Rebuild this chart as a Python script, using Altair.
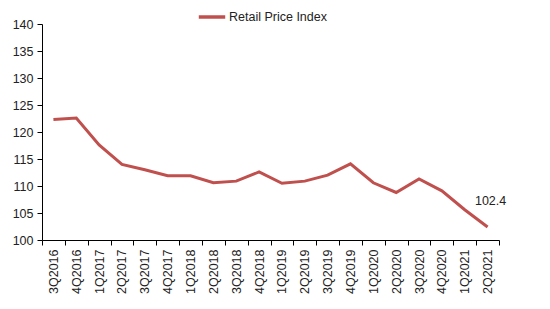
import altair as alt
import pandas as pd

quarters = [
    "3Q2016", "4Q2016", "1Q2017", "2Q2017", "3Q2017", "4Q2017",
    "1Q2018", "2Q2018", "3Q2018", "4Q2018", "1Q2019", "2Q2019",
    "3Q2019", "4Q2019", "1Q2020", "2Q2020", "3Q2020", "4Q2020",
    "1Q2021", "2Q2021",
]
rpi = [
    122.3, 122.6, 117.6, 114.0, 113.0, 111.9,
    111.9, 110.6, 110.9, 112.6, 110.5, 110.9,
    112.0, 114.1, 110.6, 108.8, 111.3, 109.1,
    105.6, 102.4,
]
y_ticks = [100, 105, 110, 115, 120, 125, 130, 135, 140]
series_name = "Retail Price Index"

df = pd.DataFrame({"quarter": quarters, "value": rpi, "series": series_name})
last = df.tail(1)

FONT = "Liberation Sans"
RED = "#C0504D"
FS = 12.5

x_scale = alt.Scale(type="band", paddingInner=0, paddingOuter=0)
y_scale = alt.Scale(domain=[100, 140], nice=False, zero=False)

# one axis definition per channel, shared by both layers so they merge cleanly
x_axis = alt.Axis(
    title=None,
    labelAngle=-90,
    labelAlign="right",
    labelBaseline="middle",
    labelOverlap=False,
    tickBand="extent",
    tickSize=5,
    labelPadding=4,
    domainColor="#000000",
    tickColor="#000000",
    labelColor="#222222",
    labelFont=FONT,
    labelFontSize=FS,
)
y_axis = alt.Axis(
    title=None,
    values=y_ticks,
    labelOverlap=False,
    grid=False,
    tickSize=5,
    labelPadding=4,
    domainColor="#000000",
    tickColor="#000000",
    labelColor="#222222",
    labelFont=FONT,
    labelFontSize=FS,
)

x_enc = alt.X("quarter:N", sort=quarters, bandPosition=0.5, scale=x_scale, axis=x_axis)
y_enc = alt.Y("value:Q", scale=y_scale, axis=y_axis)

line = alt.Chart(df).mark_line(strokeWidth=3).encode(
    x=x_enc,
    y=y_enc,
    color=alt.Color(
        "series:N",
        scale=alt.Scale(domain=[series_name], range=[RED]),
        legend=alt.Legend(
            title=None,
            orient="none",
            legendX=155,
            legendY=-22,
            symbolType="stroke",
            symbolStrokeWidth=3.5,
            symbolSize=700,
            labelFont=FONT,
            labelFontSize=FS,
            labelColor="#222222",
            labelOffset=2,
        ),
    ),
)

# value callout on the final quarter
label = alt.Chart(last).mark_text(
    font=FONT, fontSize=FS, color="#222222", dx=3, dy=-26, align="center"
).encode(
    x=x_enc,
    y=y_enc,
    text=alt.Text("value:Q", format=".1f"),
)

chart = (
    alt.layer(line, label)
    .properties(
        width=457,
        height=216,
        autosize=alt.AutoSizeParams(type="none"),
        padding={"left": 42, "top": 24, "right": 51, "bottom": 69},
    )
    .configure(background="white")
    .configure_view(strokeWidth=0, stroke="transparent")
)

chart.save("out.html", embed_options={"renderer": "svg", "actions": False})
